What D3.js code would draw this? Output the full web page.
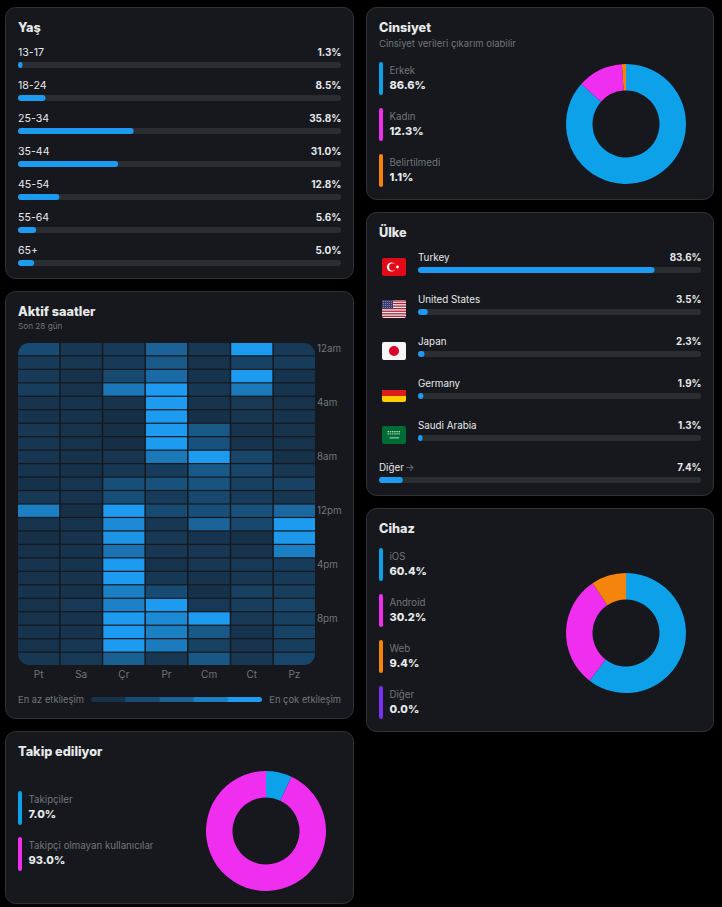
<!DOCTYPE html>
<html><head><meta charset="utf-8">
<script src="https://cdn.jsdelivr.net/npm/d3@7"></script>
<style>
html,body{margin:0;padding:0;background:#000;}
svg{display:block;}
text{font-family:Inter,"Noto Sans",sans-serif;}
</style></head><body>
<svg id="c" width="722" height="907"></svg>
<script>
const ageLabels=["13-17","18-24","25-34","35-44","45-54","55-64","65+"];
const ageValues=[1.3,8.5,35.8,31.0,12.8,5.6,5.0];
const genderLabels=["Erkek","Kadın","Belirtilmedi"];
const genderValues=[86.6,12.3,1.1];
const countryLabels=["Turkey","United States","Japan","Germany","Saudi Arabia"];
const countryValues=[83.6,3.5,2.3,1.9,1.3];
const otherCountryValue=7.4;
const deviceLabels=["iOS","Android","Web","Diğer"];
const deviceValues=[60.4,30.2,9.4,0.0];
const followLabels=["Takipçiler","Takipçi olmayan kullanıcılar"];
const followValues=[7.0,93.0];
const dayLabels=["Pt","Sa","Çr","Pr","Cm","Ct","Pz"];
const hourTicks=["12am","4am","8am","12pm","4pm","8pm"];
const hourRows=d3.range(24);
const activity=[
[.30,.12,.15,.50,.12,1,.15],
[.15,.12,.15,.42,.08,.22,.17],
[.15,.08,.28,.58,.10,1,.10],
[.18,.08,.68,1,.12,.70,.10],
[.10,.10,.10,1,.10,.14,.08],
[.10,.08,.06,1,.06,.12,.10],
[.12,.08,.06,1,.42,.09,.08],
[.11,.08,.05,1,.35,.09,.08],
[.11,.08,.11,.70,1,.25,.07],
[.10,.07,.13,.16,.42,.25,.12],
[.07,.11,.33,.35,.38,.20,.22],
[.14,.10,.33,.17,.27,.17,.11],
[.75,.06,1,.30,.33,.35,.55],
[.10,.10,.85,.12,.52,.27,1],
[.06,.09,.95,.14,.10,.07,.97],
[.07,.10,.65,.12,.12,.09,.75],
[.09,.10,1,.08,.12,.14,.16],
[.08,.09,1,.13,.10,.12,.15],
[.10,.08,.75,.30,.07,.20,.18],
[.08,.14,.78,1,.14,.18,.24],
[.08,.10,1,.85,1,.14,.20],
[.10,.09,1,.75,.42,.10,.22],
[.08,.13,1,.72,.22,.09,.18],
[.12,.14,.48,.12,.40,.12,.25]];
const legendSteps=[0.08,0.3,0.5,0.75,1];

const BLUE="#1d9bf0",TRACK="#2a2e33",DIM="#71767b",TXT="#e7e9ea";
const donutColors=["#0ca1e9","#f02ef0","#f5840c","#7a2ff5"];
const svg=d3.select("#c");

function card(x,y,w,h){svg.append("rect").attr("x",x+.5).attr("y",y+.5).attr("width",w).attr("height",h).attr("rx",10)
  .attr("fill","#16181d").attr("stroke","#2f3336").attr("stroke-width",1);}
function txt(x,y,s,o={}){const t=svg.append("text").attr("x",x).attr("y",y).text(s)
  .attr("font-size",o.size||11).attr("fill",o.fill||TXT).attr("font-weight",o.w||400).attr("text-anchor",o.a||"start");return t;}
function title(x,y,s){return txt(x,y,s,{size:12.7,w:800});}

function bar(x0,x1,y,v){
  const sx=d3.scaleLinear([0,100],[x0,x1]);
  svg.append("rect").attr("x",x0).attr("y",y).attr("width",x1-x0).attr("height",6).attr("rx",3).attr("fill",TRACK);
  svg.append("rect").attr("x",x0).attr("y",y).attr("width",Math.max(sx(v)-x0,4.5)).attr("height",6).attr("rx",3).attr("fill",BLUE);
}

function legend(x,y0,pitch,labels,values,barH){
  labels.forEach((l,i)=>{
    const y=y0+i*pitch;
    svg.append("rect").attr("x",x).attr("y",y).attr("width",4).attr("height",barH).attr("rx",2).attr("fill",donutColors[i]);
    txt(x+10.5,y+12,l,{size:9.7,fill:DIM});
    txt(x+10.5,y+27,values[i].toFixed(1)+"%",{size:11,w:800});
  });
}
function donut(cx,cy,values){
  const pie=d3.pie().sort(null).value(d=>d)(values);
  const arc=d3.arc().innerRadius(33.5).outerRadius(60);
  svg.append("g").attr("transform",`translate(${cx},${cy})`).selectAll("path").data(pie).join("path")
    .attr("d",arc).attr("fill",(d,i)=>donutColors[i]);
}

// Cards
card(5,7,348,271); card(5,291,348,427); card(5,731,348,172);
card(366,7,347,192); card(366,212,347,283); card(366,508,347,223);

// Yaş
title(18,32,"Yaş");
ageLabels.forEach((l,i)=>{
  const y=62+i*33;
  txt(18,y-6,l,{size:10.6});
  txt(341.5,y-6,ageValues[i].toFixed(1)+"%",{size:10,w:700,a:"end"});
  bar(18,341,y,ageValues[i]);
});

// Aktif saatler
title(18,316,"Aktif saatler");
txt(18,329,"Son 28 gün",{size:8.2,fill:DIM});
const xDay=d3.scaleBand(dayLabels,[18,315]).paddingInner(0.035);
const yHour=d3.scaleBand(hourRows,[343,665]).paddingInner(0.09);
const heat=d3.scaleLinear([0,1],["#16293d",BLUE]);
const defs=svg.append("defs");
defs.append("clipPath").attr("id","hm").append("rect").attr("x",18).attr("y",343).attr("width",297).attr("height",322).attr("rx",11);
const hm=svg.append("g").attr("clip-path","url(#hm)");
activity.forEach((row,r)=>{
  hm.selectAll(null).data(row).join("rect")
    .attr("x",(d,i)=>xDay(dayLabels[i])).attr("y",yHour(r))
    .attr("width",xDay.bandwidth()).attr("height",yHour.bandwidth())
    .attr("fill",d=>heat(d));
});
const ax=svg.append("g").attr("transform","translate(0,668)")
  .call(d3.axisBottom(xDay).tickSize(0).tickPadding(3));
ax.select(".domain").remove();
ax.selectAll("text").attr("font-size",10).attr("fill",DIM).style("font-family","Inter");
const hourScale=d3.scaleOrdinal(hourTicks,hourTicks.map((d,i)=>yHour(i*4)+yHour.bandwidth()/2-.6));
const ay=svg.append("g").attr("transform","translate(317,0)")
  .call(d3.axisRight(hourScale).tickSize(0).tickPadding(0));
ay.select(".domain").remove();
ay.selectAll("text").attr("font-size",9.8).attr("fill",DIM).style("font-family","Inter");
txt(18,703,"En az etkileşim",{size:9.4,fill:DIM});
txt(341,703,"En çok etkileşim",{size:9.4,fill:DIM,a:"end"});
const xLeg=d3.scaleBand(d3.range(legendSteps.length),[91,262]);
defs.append("clipPath").attr("id","lg").append("rect").attr("x",91).attr("y",697).attr("width",171).attr("height",5).attr("rx",2.5);
svg.append("g").attr("clip-path","url(#lg)").selectAll("rect").data(legendSteps).join("rect")
  .attr("x",(d,i)=>xLeg(i)).attr("y",697).attr("width",xLeg.bandwidth()+.3).attr("height",5).attr("fill",d=>heat(d));

// Takip ediliyor
title(18,756,"Takip ediliyor");
legend(18,791,46,followLabels,followValues,34);
donut(266,831,followValues);

// Cinsiyet
title(379,32,"Cinsiyet");
txt(379,47,"Cinsiyet verileri çıkarım olabilir",{size:9.5,fill:DIM});
legend(379,62,46,genderLabels,genderValues,33);
donut(626,124,genderValues);

// Ülke
title(379,236.5,"Ülke");
function flag(name,x,y){
  const w=24,h=18,g=svg.append("g").attr("transform",`translate(${x},${y})`);
  const id="f"+name.replace(/\s/g,"");
  defs.append("clipPath").attr("id",id).append("rect").attr("width",w).attr("height",h).attr("rx",2);
  const f=g.append("g").attr("clip-path",`url(#${id})`);
  const R=(a,b,c,d,col)=>f.append("rect").attr("x",a).attr("y",b).attr("width",c).attr("height",d).attr("fill",col);
  if(name==="Turkey"){R(0,0,w,h,"#e30a17");
    f.append("circle").attr("cx",9.5).attr("cy",9).attr("r",4.6).attr("fill","#fff");
    f.append("circle").attr("cx",10.8).attr("cy",9).attr("r",3.7).attr("fill","#e30a17");
    f.append("circle").attr("cx",15.5).attr("cy",9).attr("r",1.4).attr("fill","#fff");}
  if(name==="United States"){R(0,0,w,h,"#eee");
    d3.range(0,7).forEach(i=>R(0,i*18/7+.3,w,18/14,"#b22234"));
    R(0,0,11,9,"#3c3b6e");
    d3.range(4).forEach(r=>d3.range(5).forEach(c=>f.append("circle").attr("cx",1.3+c*2.1).attr("cy",1.5+r*2).attr("r",.45).attr("fill","#ccd"))); }
  if(name==="Japan"){R(0,0,w,h,"#f5f5f5");
    f.append("circle").attr("cx",12).attr("cy",9).attr("r",5).attr("fill","#d9002a");}
  if(name==="Germany"){R(0,0,w,6,"#17181c");R(0,6,w,6,"#dd1c1c");R(0,12,w,6,"#ffce00");}
  if(name==="Saudi Arabia"){R(0,0,w,h,"#006c35");
    d3.range(6).forEach(c=>{R(5.5+c*2.2,5,1.5,1.3,"#a9d0b8");R(5.5+c*2.2,7.2,1.5,1.3,"#8fc2a3");});
    R(7.5,11.5,9.5,.8,"#e6efe9");}
}
countryLabels.forEach((l,i)=>{
  const y=267+i*42;
  flag(l,382,y-9);
  txt(418,y-6.3,l,{size:9.8});
  txt(701.5,y-6.3,countryValues[i].toFixed(1)+"%",{size:9.8,w:700,a:"end"});
  bar(418,701,y,countryValues[i]);
});
txt(379,471,"Diğer",{size:9.8});
txt(405,471,"→",{size:10,fill:DIM});
txt(701.5,471,otherCountryValue.toFixed(1)+"%",{size:9.8,w:700,a:"end"});
bar(379,701,477,otherCountryValue);

// Cihaz
title(379,533,"Cihaz");
legend(379,548,46,deviceLabels,deviceValues,33);
donut(626,633,deviceValues);
</script>
</body></html>
